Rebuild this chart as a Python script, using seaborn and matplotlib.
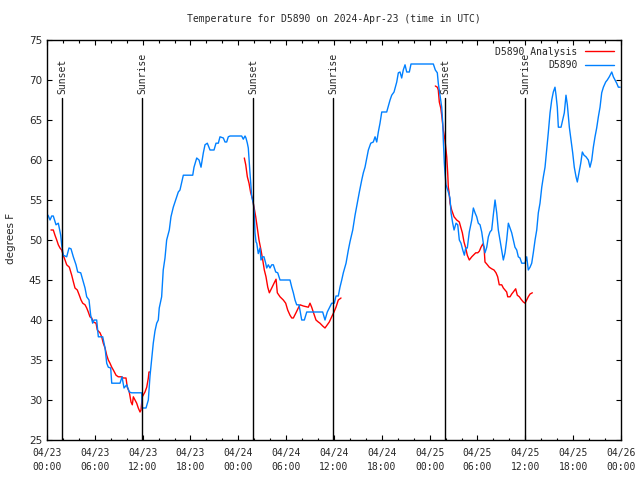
import pandas as pd
import matplotlib
matplotlib.use('Agg')
import matplotlib.pyplot as plt
import matplotlib.dates as mdates
import seaborn as sns

start = pd.Timestamp('2024-04-23 00:00')

# D5890 observations: hours after 04/23 00:00 UTC, degrees F
obs_hours = [0.13, 0.38, 0.59, 0.79, 1.13, 1.42, 1.72, 1.84, 2.04, 2.47, 2.76, 3.01, 3.30, 3.64, 3.85,
             4.23, 4.48, 4.77, 4.98, 5.27, 5.48, 5.73, 5.90, 6.23, 6.44, 6.99, 7.28, 7.49, 7.69, 7.99,
             8.12, 9.16, 9.41, 9.66, 10.0, 10.32, 10.62, 11.88, 11.95, 12.42, 12.71, 12.92, 13.33, 13.54,
             13.76, 13.96, 14.08, 14.38, 14.58, 14.80, 15.01, 15.34, 15.55, 15.84, 16.14, 16.47, 16.68,
             17.10, 18.28, 18.44, 18.78, 19.07, 19.32, 19.61, 19.82, 20.11, 20.45, 20.95, 21.20, 21.49,
             21.70, 22.12, 22.33, 22.54, 22.74, 22.96, 24.42, 24.62, 24.84, 24.96, 25.13, 25.25, 25.46,
             25.68, 25.88, 26.0, 26.09, 26.22, 26.31, 26.50, 26.72, 26.84, 27.06, 27.22, 27.43, 27.56,
             27.76, 27.97, 28.19, 28.39, 28.69, 28.94, 29.23, 30.48, 30.70, 30.90, 31.11, 31.32, 31.61,
             31.95, 32.28, 32.58, 34.58, 34.87, 35.16, 35.41, 35.71, 36.04, 36.25, 36.54, 36.75, 36.97,
             37.17, 37.51, 37.80, 38.01, 38.35, 38.64, 38.92, 39.18, 39.48, 39.68, 39.89, 40.31, 40.61,
             40.93, 41.15, 41.36, 41.56, 41.77, 41.99, 42.61, 43.03, 43.24, 43.53, 43.87, 44.07, 44.28,
             44.49, 44.69, 44.91, 45.12, 45.45, 45.66, 48.46, 48.71, 48.96, 49.08, 49.30, 49.51, 49.64,
             49.71, 49.84, 49.92, 50.05, 50.34, 50.55, 50.68, 50.89, 51.06, 51.31, 51.52, 51.72, 51.93,
             52.15, 52.35, 52.52, 52.72, 52.97, 53.28, 53.48, 53.69, 53.90, 54.10, 54.32, 54.53, 54.73,
             54.94, 55.16, 55.36, 55.57, 55.78, 55.98, 56.20, 56.41, 56.61, 56.82, 57.04, 57.24, 57.45,
             57.66, 57.87, 58.08, 58.29, 58.49, 58.70, 58.92, 59.12, 59.33, 59.55, 59.96, 60.17, 60.37,
             60.59, 60.80, 61.0, 61.22, 61.43, 61.63, 61.84, 62.06, 62.26, 62.47, 62.68, 62.88, 63.10,
             63.31, 63.51, 63.72, 63.85, 64.01, 64.14, 64.48, 64.69, 64.89, 65.10, 65.27, 65.52, 65.73,
             65.94, 66.14, 66.36, 66.52, 66.73, 66.95, 67.15, 67.36, 67.61, 67.90, 68.11, 68.33, 68.53,
             68.74, 68.95, 69.16, 69.37, 69.58, 69.79, 70.08, 70.28, 70.53, 70.84, 71.04, 71.25, 71.46,
             71.67, 71.89]
obs_temps = [53.1, 52.5, 53, 53, 51.9, 52.1, 50.6, 49.4, 48.1, 47.9, 49, 48.9, 47.9, 46.9, 46,
             45.9, 45, 44, 42.9, 42.5, 40.6, 39.6, 40, 40, 37.9, 37.9, 36.5, 34.6, 34.1, 34,
             32.1, 32.1, 32.9, 31.5, 31.9, 31, 30.9, 30.9, 29, 29, 30, 33, 37.1, 38.6,
             39.6, 40, 41.5, 42.9, 46.25, 47.75, 50, 51.25, 52.9, 54.1, 55, 56, 56.25,
             58.1, 58.1, 59.1, 60.25, 60, 59.1, 60.9, 61.9, 62.1, 61.25, 61.25, 62.1, 62.1,
             62.9, 62.75, 62.25, 62.25, 62.9, 63, 63, 62.6, 63, 62.75, 62.1, 61.5, 58.4,
             55.4, 54.6, 53.4, 50.9, 49.75, 49.6, 48.3, 49, 47.5, 47.9, 47.9, 47.1, 46.5,
             46.9, 46.5, 46.9, 46.9, 46, 45.9, 45, 45, 44.1, 43.4, 42.5, 41.9, 41.9,
             40, 40, 41, 41, 40, 41, 41.5, 42.1, 42.1, 43, 43, 44.1, 45,
             45.9, 47.1, 48.75, 49.8, 51.25, 53.1, 54.6, 56, 57.5, 58.4, 59.1, 61.25, 62.1,
             62.25, 62.9, 62.25, 63.5, 64.6, 66, 66, 67.5, 68.1, 68.5, 69.75, 70.9, 71,
             70.25, 71.25, 71.9, 71, 71, 72, 72, 71.25, 70.9, 69.6, 68.1, 66.6, 64.6,
             62.5, 59.6, 58.4, 56.9, 56, 55.25, 53.4, 52.1, 51.25, 52.1, 51.9, 50, 49.6,
             48.75, 48.1, 49, 49, 51, 52.5, 54, 53.4, 52.9, 52.1, 51.9, 51, 49.6,
             48.4, 49.1, 50.4, 51, 51.25, 53.1, 55, 53.4, 51.25, 50, 48.75, 47.5, 48.4,
             50, 52.1, 51.5, 50.9, 50, 49.1, 48.75, 47.9, 47.75, 47.1, 47.1, 47.9, 46.25,
             46.6, 47.1, 48.4, 50, 51.25, 53.4, 54.6, 56.6, 57.9, 59.1, 61.25, 63.4, 65.9,
             67.5, 68.5, 69.1, 68.1, 66.6, 64.1, 64.1, 65, 65.9, 68.1, 66.9, 64.1, 62.5,
             60.9, 59.1, 57.9, 57.25, 58.4, 59.6, 61, 60.6, 60.4, 60, 59.1, 60, 61.6,
             62.9, 64, 65.4, 66.6, 68.4, 69.1, 69.75, 70, 70.4, 71, 70.4, 70, 69.6,
             69.1, 69.1]

# D5890 Analysis, three separate runs
ana1_hours = [0.50, 0.79, 1.0, 1.22, 1.42, 1.63, 1.84, 2.04, 2.26, 2.47, 2.80, 3.10, 3.30, 3.51, 3.80,
              4.05, 4.27, 4.48, 4.77, 4.98, 5.18, 5.39, 5.61, 5.81, 6.15, 6.31, 6.65, 6.86, 7.06, 7.28,
              7.49, 7.69, 7.90, 8.12, 8.32, 8.66, 8.94, 9.37, 9.57, 9.91, 10.07, 10.32, 10.54, 10.70,
              10.83, 11.04, 11.25, 11.45, 11.67, 11.79, 11.95, 12.29, 12.51, 12.71, 12.79, 12.92]
ana1_temps = [51.25, 51.25, 50.6, 50, 49.4, 49, 48.75, 48.1, 47.5, 46.9, 46.6, 45.6, 44.8, 44, 43.75,
              43.1, 42.5, 42.1, 41.9, 41.5, 41, 40.4, 40.25, 39.75, 39.6, 38.75, 38.4, 37.9, 37.1, 36.5,
              35.6, 35, 34.6, 34.1, 33.75, 33.1, 32.9, 32.9, 32.75, 32.75, 31.6, 31, 29.75, 29.4,
              30.4, 30, 29.6, 29, 28.5, 28.75, 30.4, 31, 31.6, 32.75, 33.5, 33.5]
ana2_hours = [24.75, 24.93, 25.13, 25.34, 25.55, 25.75, 25.97, 26.18, 26.38, 26.59, 26.84, 27.06, 27.26,
              27.47, 27.69, 27.89, 28.19, 28.48, 28.73, 28.89, 29.23, 29.64, 29.94, 30.19, 30.48, 30.70,
              30.90, 31.23, 31.52, 31.74, 32.15, 32.78, 32.99, 33.20, 33.40, 33.74, 34.03, 34.24, 34.58,
              34.87, 35.16, 35.41, 35.71, 36.0, 36.25, 36.54, 36.88]
ana2_temps = [60.25, 59.4, 57.9, 57.1, 55.9, 55.25, 54.1, 52.9, 51.5, 50, 48.75, 47.5, 46.25,
              45.4, 44.1, 43.4, 44, 44.6, 45.1, 43.4, 42.9, 42.5, 42.1, 41.25, 40.6, 40.25,
              40.25, 40.9, 41.5, 41.9, 41.75, 41.6, 42.1, 41.6, 41, 40, 39.75, 39.6, 39.25,
              39, 39.4, 39.75, 40.4, 41, 41.6, 42.5, 42.75]
ana3_hours = [48.71, 48.96, 49.08, 49.21, 49.39, 49.51, 49.71, 49.92, 50.14, 50.26, 50.34, 50.43, 50.55,
              50.76, 51.06, 51.39, 51.72, 51.90, 52.10, 52.31, 52.52, 52.72, 52.97, 53.28, 53.48, 53.78,
              54.03, 54.23, 54.44, 54.66, 54.82, 54.94, 55.16, 55.48, 55.78, 56.07, 56.32, 56.53, 56.73,
              57.04, 57.24, 57.45, 57.66, 57.79, 58.08, 58.29, 58.49, 58.79, 58.99, 59.25, 59.46, 59.75,
              59.96, 60.17, 60.37, 60.59, 60.88]
ana3_temps = [69.25, 69.1, 68.75, 67.25, 66.5, 65.6, 63.75, 62.5, 60.4, 58.4, 56.6, 56, 54.6,
              53.75, 52.9, 52.5, 52.25, 51.6, 50.9, 49.75, 49, 48.1, 47.5, 47.9, 48.1, 48.4,
              48.4, 48.6, 49.1, 49.5, 49.1, 47.25, 47, 46.6, 46.4, 46.25, 45.9, 45.4, 44.4,
              44.4, 44, 43.75, 43.5, 42.9, 42.9, 43.25, 43.5, 43.9, 43.1, 42.9, 42.6, 42.25,
              42.1, 42.5, 42.9, 43.25, 43.4]

# sunrise / sunset times (hours after start)
sun_hours = [1.88, 11.95, 25.84, 35.88, 49.92, 59.96]
sun_labels = ['Sunset', 'Sunrise', 'Sunset', 'Sunrise', 'Sunset', 'Sunrise']

frames = [pd.DataFrame({'hours': obs_hours, 'temp': obs_temps, 'series': 'D5890', 'seg': 0})]
for i, (h, t) in enumerate([(ana1_hours, ana1_temps), (ana2_hours, ana2_temps), (ana3_hours, ana3_temps)]):
    frames.append(pd.DataFrame({'hours': h, 'temp': t, 'series': 'D5890 Analysis', 'seg': i + 1}))
df = pd.concat(frames, ignore_index=True)
df['time'] = start + pd.to_timedelta(df['hours'], unit='h')

sns.set_style('ticks')
plt.rcParams['font.family'] = ['DejaVu Sans Mono']
plt.rcParams['font.size'] = 7

fig = plt.figure(figsize=(6.4, 4.8), dpi=100)
ax = fig.add_axes([47 / 640, 40 / 480, 574 / 640, 400 / 480])

sns.lineplot(data=df, x='time', y='temp', hue='series', hue_order=['D5890 Analysis', 'D5890'],
             palette={'D5890 Analysis': '#ff0000', 'D5890': '#0080ff'}, units='seg',
             estimator=None, sort=False, lw=1.0, ax=ax)

for h, lab in zip(sun_hours, sun_labels):
    t = start + pd.Timedelta(hours=h)
    ax.axvline(t, ymin=0, ymax=(67.8 - 25) / 50, color='black', lw=1.0)
    ax.text(t, 68.3, lab, rotation=90, ha='center', va='bottom', fontsize=7)

ax.set_xlim(start, start + pd.Timedelta(hours=72))
ax.set_ylim(25, 75)
ax.set_yticks(range(25, 80, 5))
ax.xaxis.set_major_locator(mdates.HourLocator(byhour=range(0, 24, 6)))
ax.xaxis.set_minor_locator(mdates.HourLocator(byhour=range(0, 24, 2)))
ax.xaxis.set_major_formatter(mdates.DateFormatter('%m/%d\n%H:%M'))
ax.yaxis.set_minor_locator(matplotlib.ticker.NullLocator())
ax.tick_params(which='both', direction='in', top=True, right=True, color='black')
ax.tick_params(which='major', length=3.5, width=0.8)
ax.tick_params(which='minor', length=1.8, width=0.8)
ax.tick_params(axis='x', pad=6, labelsize=7)
ax.tick_params(axis='y', labelfontfamily='DejaVu Sans', labelsize=7.5)
for s in ax.spines.values():
    s.set_color('black')
    s.set_linewidth(1.0)

ax.set_xlabel('')
ax.set_ylabel('')
fig.text(11 / 640, 1 - 238 / 480, 'degrees F', rotation=90, ha='center', va='center',
         fontfamily='DejaVu Sans', fontsize=7.5)
fig.text(334 / 640, 1 - 19 / 480, 'Temperature for D5890 on 2024-Apr-23 (time in UTC)',
         ha='center', va='center', fontsize=7)

handles, labels = ax.get_legend_handles_labels()
leg = ax.legend(handles, labels, loc='upper right', bbox_to_anchor=(1.0, 1.0), frameon=False,
                markerfirst=False, handlelength=3.0, handletextpad=0.8, labelspacing=0.35,
                borderaxespad=0.3, fontsize=7)
for col in leg._legend_handle_box.get_children():
    col.align = 'right'

fig.canvas.draw()
for lab in ax.get_xticklabels():
    lab.set_linespacing(1.5)

fig.savefig('out.png', dpi=100, facecolor='white')
